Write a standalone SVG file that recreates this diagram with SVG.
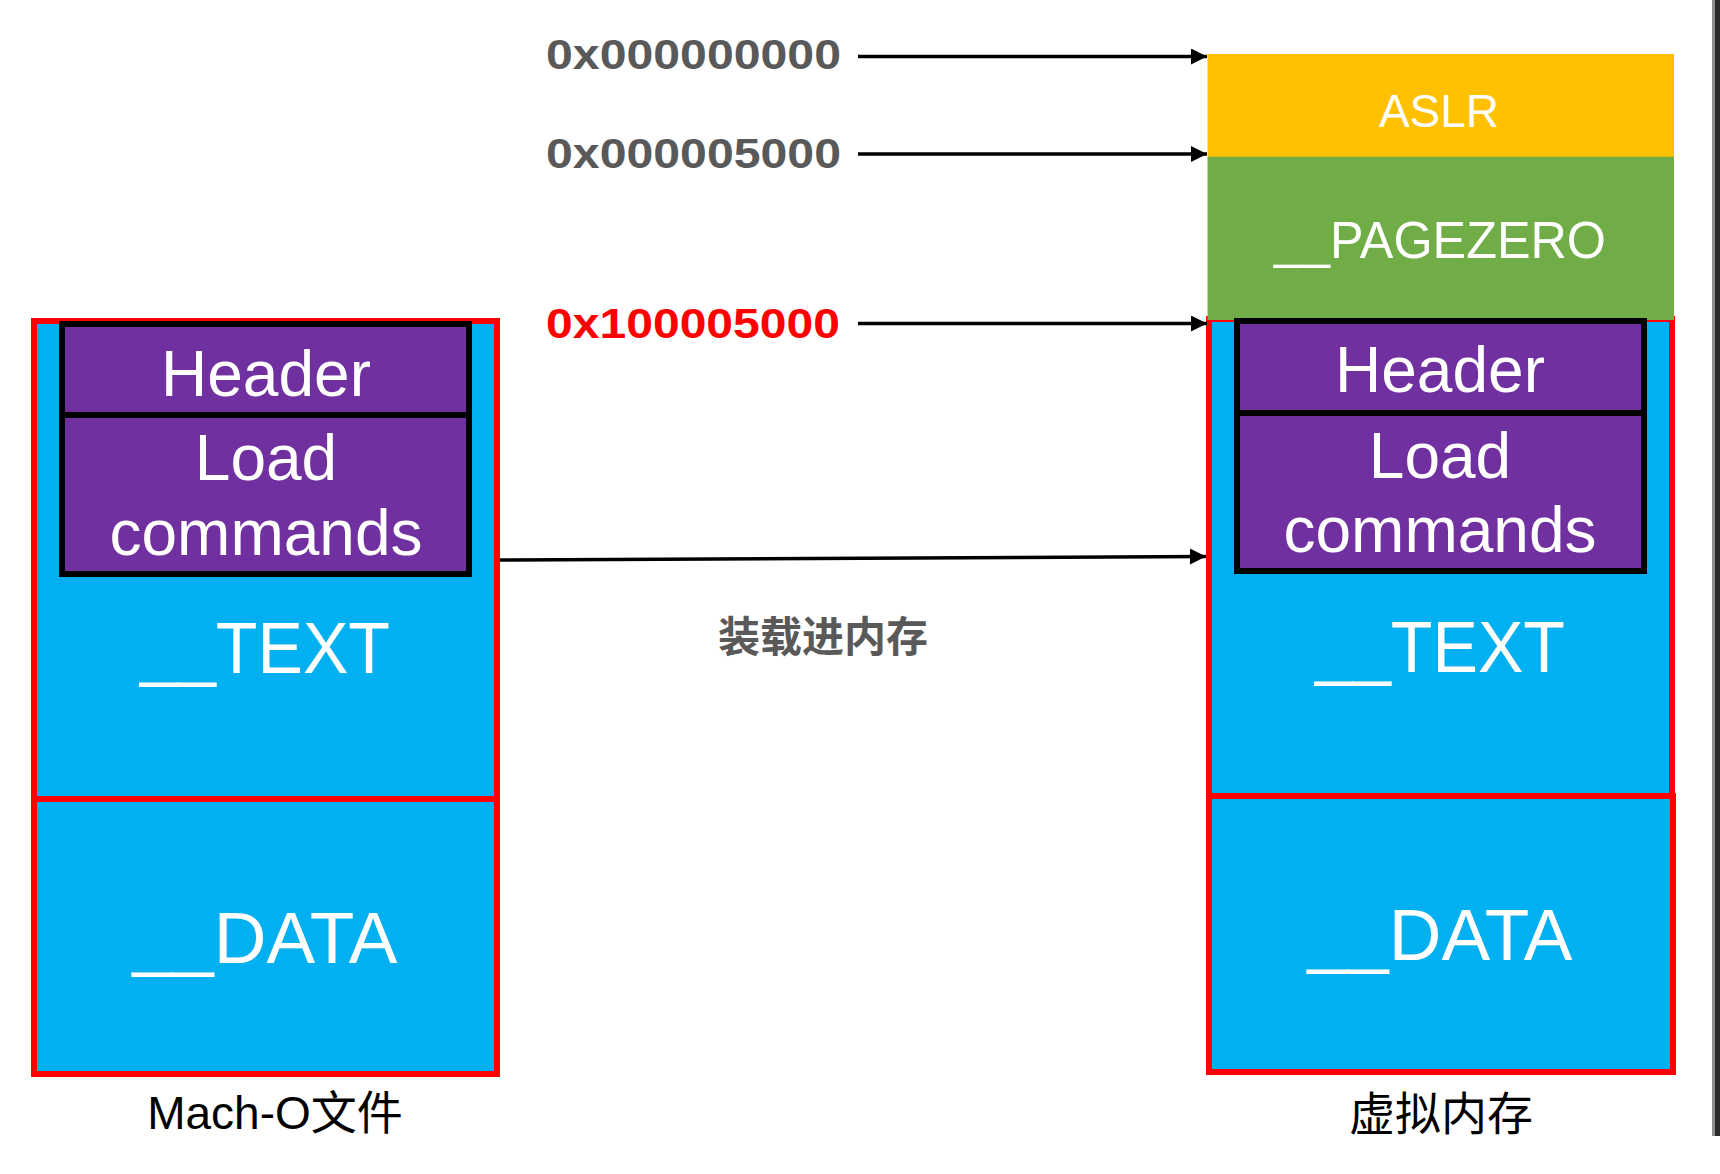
<svg xmlns="http://www.w3.org/2000/svg" width="1720" height="1174" viewBox="0 0 1720 1174">
<style>
.seg{fill:#00b0f0;stroke:#ff0000;stroke-width:6}
.hdr{fill:#7030a0;stroke:#000;stroke-width:6}
.w{fill:#fff;font-family:"Liberation Sans",Arial,sans-serif;text-anchor:middle}
.addr{font-family:"Liberation Sans",Arial,sans-serif;font-weight:bold;font-size:43px}
.cap{fill:#000;font-family:"Liberation Sans","Noto Sans CJK SC",sans-serif;font-size:46px;text-anchor:middle}
.conn{stroke:#000;stroke-width:3.5;fill:none}
</style>
<defs>
<marker id="ah" markerUnits="userSpaceOnUse" markerWidth="18" markerHeight="16" refX="16" refY="8" orient="auto">
<path d="M0,0 L16,8 L0,16 Z" fill="#000"/>
</marker>
</defs>
<rect width="1720" height="1174" fill="#fff"/>
<rect x="1712" y="0" width="3" height="1136" fill="#8c8c8c"/>
<rect x="1715" y="0" width="5" height="1136" fill="#2b2b2b"/>

<g id="macho-file">
<g id="left-text-seg">
<rect class="seg" x="34" y="321" width="463" height="478"/>
<text class="w" x="265" y="673" font-size="72" textLength="250" lengthAdjust="spacingAndGlyphs">__TEXT</text>
</g>
<g id="left-data-seg">
<rect class="seg" x="34" y="799" width="463" height="275"/>
<text class="w" x="265" y="963" font-size="72" textLength="265" lengthAdjust="spacingAndGlyphs">__DATA</text>
</g>
<g id="left-header">
<rect class="hdr" x="62" y="324" width="407" height="91"/>
<text class="w" x="266" y="396" font-size="64">Header</text>
</g>
<g id="left-loadcmds">
<rect class="hdr" x="62" y="415" width="407" height="159"/>
<text class="w" x="266" y="480" font-size="64">Load</text>
<text class="w" x="266" y="555" font-size="64">commands</text>
</g>
<text id="left-caption" class="cap" x="275" y="1129">Mach-O文件</text>
</g>

<g id="virtual-memory">
<g id="aslr">
<rect x="1207.5" y="54" width="466.5" height="103" fill="#ffc000"/>
<text class="w" x="1439" y="127" font-size="46">ASLR</text>
</g>
<g id="right-text-seg">
<rect class="seg" x="1209" y="319" width="463" height="477"/>
<text class="w" x="1440" y="672" font-size="72" textLength="250" lengthAdjust="spacingAndGlyphs">__TEXT</text>
</g>
<g id="pagezero">
<rect x="1207.5" y="156.7" width="466.5" height="163.3" fill="#70ad47"/>
<text class="w" x="1440" y="258" font-size="52" textLength="332" lengthAdjust="spacingAndGlyphs">__PAGEZERO</text>
</g>
<g id="right-data-seg">
<rect class="seg" x="1209" y="796" width="464" height="276"/>
<text class="w" x="1440" y="960" font-size="72" textLength="265" lengthAdjust="spacingAndGlyphs">__DATA</text>
</g>
<g id="right-header">
<rect class="hdr" x="1237" y="321" width="407" height="92"/>
<text class="w" x="1440" y="392" font-size="64">Header</text>
</g>
<g id="right-loadcmds">
<rect class="hdr" x="1237" y="413" width="407" height="158"/>
<text class="w" x="1440" y="478" font-size="64">Load</text>
<text class="w" x="1440" y="552" font-size="64">commands</text>
</g>
<text id="right-caption" class="cap" x="1441" y="1130" font-size="45">虚拟内存</text>
</g>

<g id="addr-labels">
<text id="addr0" class="addr" x="546" y="69" fill="#595959" textLength="295" lengthAdjust="spacingAndGlyphs">0x000000000</text>
<text id="addr1" class="addr" x="546" y="168" fill="#595959" textLength="295" lengthAdjust="spacingAndGlyphs">0x000005000</text>
<text id="addr2" class="addr" x="546" y="338" fill="#ff0000" textLength="294" lengthAdjust="spacingAndGlyphs">0x100005000</text>
</g>

<g id="connectors">
<line class="conn" x1="858" y1="56.5" x2="1207" y2="56.5" marker-end="url(#ah)"/>
<line class="conn" x1="858" y1="154" x2="1207" y2="154" marker-end="url(#ah)"/>
<line class="conn" x1="858" y1="323.5" x2="1207" y2="323.5" marker-end="url(#ah)"/>
<line class="conn" x1="500" y1="560" x2="1206" y2="556.5" marker-end="url(#ah)"/>
<text id="load-label" x="823" y="652" fill="#595959" font-family="'Noto Sans CJK SC',sans-serif" font-weight="bold" font-size="42" text-anchor="middle">装载进内存</text>
</g>
</svg>
